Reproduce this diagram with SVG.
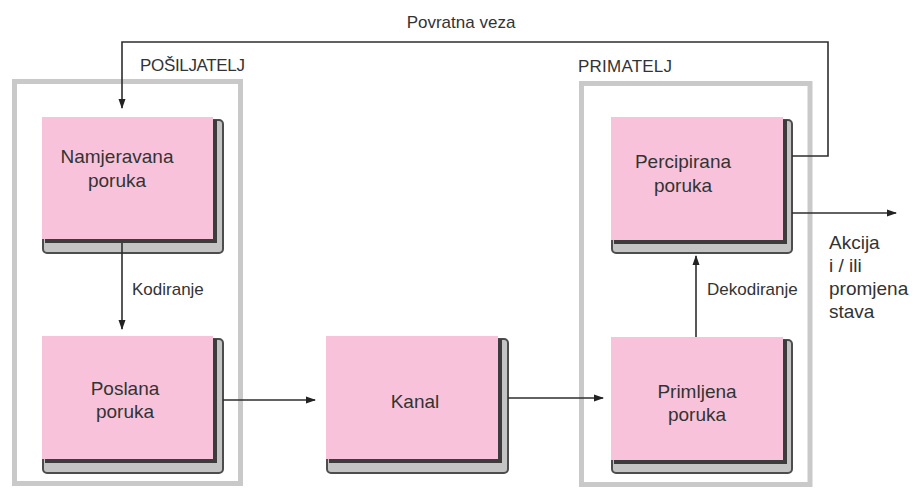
<svg xmlns="http://www.w3.org/2000/svg" width="913" height="489" viewBox="0 0 913 489">
<style>
text{font-family:"Liberation Sans",Arial,sans-serif;fill:#333}
.cont{fill:none;stroke:#c9c9c9;stroke-width:5}
.sh{fill:#c4c4c4;stroke:#4d4d4d;stroke-width:2}
.dk{fill:#3c3c3c}
.pk{fill:#f8c3da}
.bt{font-size:19px;text-anchor:middle}
.lb{font-size:17px}
.cn{fill:none;stroke:#2e2e2e;stroke-width:1.6}
</style>
<defs>
<marker id="ah" markerWidth="10" markerHeight="8" refX="9" refY="4" orient="auto" markerUnits="userSpaceOnUse">
<path d="M0,0.5 L10,4 L0,7.5 Z" fill="#222"/>
</marker>
</defs>
<rect class="cont" x="14.5" y="81.5" width="226" height="402"/>
<rect class="cont" x="581.5" y="83.5" width="228.5" height="401"/>
<text class="lb" x="140" y="71" textLength="105">POŠILJATELJ</text>
<text class="lb" x="578" y="72" textLength="94">PRIMATELJ</text>
<text class="lb" x="461" y="28" text-anchor="middle">Povratna veza</text>
<g id="namjeravana">
<rect class="sh" x="43" y="120" width="180" height="133" rx="4"/>
<rect class="dk" x="45" y="120" width="172" height="123"/>
<rect class="pk" x="42" y="117" width="171" height="122"/>
<text class="bt" x="117" y="163">Namjeravana</text>
<text class="bt" x="117" y="187">poruka</text>
</g>
<g id="poslana">
<rect class="sh" x="43" y="339" width="180" height="134" rx="4"/>
<rect class="dk" x="45" y="339" width="172" height="124"/>
<rect class="pk" x="42" y="336" width="171" height="123"/>
<text class="bt" x="125" y="395">Poslana</text>
<text class="bt" x="125" y="418">poruka</text>
</g>
<g id="kanal">
<rect class="sh" x="327" y="339" width="181" height="134" rx="4"/>
<rect class="dk" x="329" y="339" width="173" height="124"/>
<rect class="pk" x="326" y="336" width="172" height="123"/>
<text class="bt" x="415" y="408">Kanal</text>
</g>
<g id="percipirana">
<rect class="sh" x="612" y="120" width="180" height="133" rx="4"/>
<rect class="dk" x="614" y="120" width="173" height="124"/>
<rect class="pk" x="611" y="117" width="172" height="123"/>
<text class="bt" x="683" y="168">Percipirana</text>
<text class="bt" x="683" y="192">poruka</text>
</g>
<g id="primljena">
<rect class="sh" x="612" y="340" width="180" height="133" rx="4"/>
<rect class="dk" x="614" y="340" width="173" height="124"/>
<rect class="pk" x="611" y="337" width="172" height="123"/>
<text class="bt" x="697" y="398">Primljena</text>
<text class="bt" x="697" y="421">poruka</text>
</g>
<g id="connectors">
<path class="cn" d="M792,156 H828 V42 H122 V108" marker-end="url(#ah)"/>
<path class="cn" d="M122,243 V329" marker-end="url(#ah)"/>
<path class="cn" d="M223,400 H315" marker-end="url(#ah)"/>
<path class="cn" d="M508,398 H603" marker-end="url(#ah)"/>
<path class="cn" d="M696,337 V256" marker-end="url(#ah)"/>
<path class="cn" d="M792,213 H896" marker-end="url(#ah)"/>
<text class="lb" x="132" y="295">Kodiranje</text>
<text class="lb" x="707" y="295">Dekodiranje</text>
</g>
<g id="akcija" style="font-size:19px">
<text x="829" y="249" style="font-size:19px">Akcija</text>
<text x="829" y="272" style="font-size:19px">i / ili</text>
<text x="829" y="295" style="font-size:19px">promjena</text>
<text x="829" y="318" style="font-size:19px">stava</text>
</g>
</svg>
